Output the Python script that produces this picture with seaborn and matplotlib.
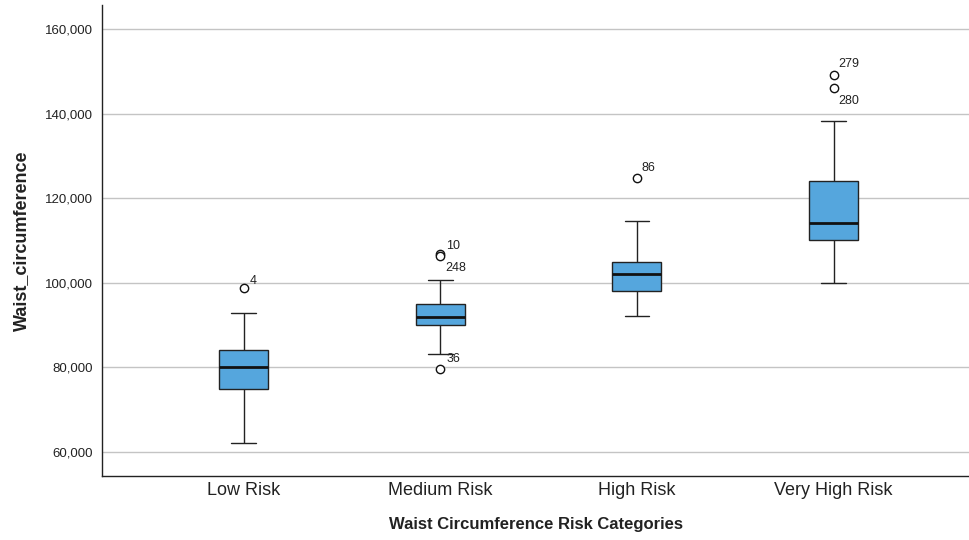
import numpy as np
import pandas as pd
import matplotlib
matplotlib.use("Agg")
import matplotlib.pyplot as plt
from matplotlib.ticker import FuncFormatter, FixedLocator
import seaborn as sns

# Five-number summaries per risk category (waist circumference, cm)
categories = ["Low Risk", "Medium Risk", "High Risk", "Very High Risk"]
whisker_low = [62.0, 83.1, 92.1, 100.0]
q1 = [74.9, 89.9, 98.0, 110.0]
median = [80.0, 92.0, 102.0, 114.2]
q3 = [84.0, 95.0, 105.0, 124.0]
whisker_high = [92.9, 100.6, 114.7, 138.2]
outliers = [[98.8], [106.8, 106.2, 79.5], [124.8], [149.1, 146.0]]
outlier_ids = [["4"], ["10", "248", "36"], ["86"], ["279", "280"]]

# Label offsets (points) for the case-number annotations
label_offsets = [[(4.3, 5.0)], [(4.3, 5.8), (3.6, -8.6), (4.3, 7.2)], [(3.6, 7.2)],
                 [(3.6, 7.9), (3.6, -9.4)]]

# Build an observation table whose quartiles and whiskers reproduce the summaries
rows = []
for i, cat in enumerate(categories):
    vals = ([whisker_low[i]] + [q1[i]] * 20 + [median[i]] * 20 + [q3[i]] * 20
            + [whisker_high[i]] + list(outliers[i]))
    rows += [(cat, v) for v in vals]
df = pd.DataFrame(rows, columns=["category", "waist"])

sns.set_theme(style="white")
plt.rcParams["font.family"] = ["Liberation Sans", "DejaVu Sans"]

fig = plt.figure(figsize=(9.7, 5.4), dpi=100)
ax = fig.add_axes([0.1052, 0.1185, 0.894, 0.8722])

sns.boxplot(
    data=df, x="category", y="waist", order=categories, ax=ax,
    color="#55A6DD", saturation=1, width=0.25, linecolor="#222222", linewidth=1,
    medianprops=dict(color="#111111", linewidth=2),
    flierprops=dict(marker="o", markerfacecolor="white", markeredgecolor="#111111",
                    markersize=6, markeredgewidth=1),
    whis=1.5,
)

for i, (vals, ids, offs) in enumerate(zip(outliers, outlier_ids, label_offsets)):
    for v, lab, off in zip(vals, ids, offs):
        ax.annotate(lab, xy=(i, v), xytext=off, textcoords="offset points",
                    ha="left", va="center", fontsize=9, color="#222222")

ax.set_xlim(-0.72, 3.69)
ax.set_ylim(54.3, 165.65)
ax.yaxis.set_major_locator(FixedLocator([60, 80, 100, 120, 140, 160]))
ax.yaxis.set_major_formatter(FuncFormatter(lambda v, p: f"{v:.3f}".replace(".", ",")))
ax.yaxis.grid(True, color="#c4c4c4", linewidth=1)
ax.xaxis.grid(False)
ax.set_axisbelow(True)

for side in ["top", "right"]:
    ax.spines[side].set_visible(False)
for side in ["left", "bottom"]:
    ax.spines[side].set_color("#222222")
    ax.spines[side].set_linewidth(1)

ax.tick_params(axis="y", length=0, pad=6.5, labelsize=9.5, labelcolor="#222222")
ax.tick_params(axis="x", length=0, pad=4, labelsize=13, labelcolor="#222222")

ax.set_xlabel("Waist Circumference Risk Categories", fontsize=12, fontweight="bold",
              labelpad=13.5, color="#222222")
ax.set_ylabel("Waist_circumference", fontsize=13, fontweight="bold",
              labelpad=11, color="#222222")

fig.savefig("out.png", dpi=100)
